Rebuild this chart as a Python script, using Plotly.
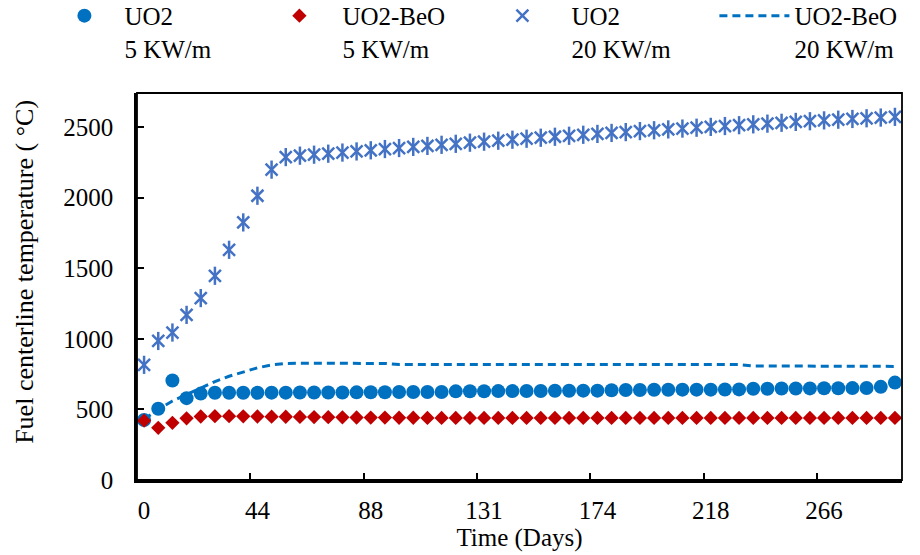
import plotly.graph_objects as go

# category index positions (54 time steps); labels shown every 8th category
tick_positions = [0, 8, 16, 24, 32, 40, 48]
tick_labels = ["0", "44", "88", "131", "174", "218", "266"]
n_cat = 54
categories = list(range(n_cat))

uo2_5 = [425, 505, 705, 580, 612, 618, 618, 618, 618, 619, 619, 620, 620, 620, 620, 621, 622, 622,
         623, 623, 624, 624, 628, 629, 629, 630, 630, 631, 631, 632, 632, 633, 633, 636, 638, 638,
         639, 639, 640, 640, 640, 641, 642, 646, 647, 648, 648, 649, 650, 650, 651, 652, 660, 690]

uo2beo_5 = [420, 370, 405, 437, 450, 452, 452, 451, 450, 449, 448, 447, 446, 445, 444, 443, 442, 442,
            441, 441, 440, 440, 440, 440, 440, 440, 440, 440, 440, 440, 440, 440, 440, 440, 440, 440,
            440, 440, 440, 440, 440, 440, 440, 440, 440, 440, 440, 440, 440, 440, 440, 440, 440, 440]

uo2_20 = [816, 985, 1045, 1170, 1289, 1447, 1631, 1825, 2014, 2199, 2288, 2298, 2305, 2312, 2320, 2328,
          2336, 2345, 2352, 2360, 2367, 2375, 2382, 2390, 2397, 2404, 2411, 2418, 2425, 2432, 2439,
          2446, 2452, 2459, 2465, 2472, 2478, 2484, 2490, 2496, 2502, 2508, 2514, 2520, 2525, 2531,
          2537, 2542, 2548, 2553, 2558, 2563, 2568, 2573]

uo2beo_20 = [430, 500, 560, 605, 650, 697, 735, 766, 795, 815, 826,
             827, 827, 827, 827, 827, 826, 826,
             818, 818, 818, 818, 818, 818, 818, 818, 818, 818, 818, 818, 818, 818, 818, 818, 818, 818,
             818, 818, 818, 818, 818, 818, 818,
             808, 808, 808, 808, 808, 808, 808, 808, 808, 808, 805]

FONT = "'Liberation Serif', 'Times New Roman', Times, serif"
BLUE = "#0070C0"
RED = "#C00000"
STAR = "#4472C4"

fig = go.Figure()

fig.add_trace(go.Scatter(x=categories, y=uo2beo_20, mode="lines", name="UO2-BeO<br>20 KW/m",
                         line=dict(color=BLUE, width=3, dash="8px,5px"), legend="legend4"))
fig.add_trace(go.Scatter(x=categories, y=uo2_5, mode="markers", name="UO2<br>5 KW/m",
                         marker=dict(symbol="circle", size=14, color=BLUE), legend="legend"))
fig.add_trace(go.Scatter(x=categories, y=uo2beo_5, mode="markers", name="UO2-BeO<br>5 KW/m",
                         marker=dict(symbol="diamond", size=11, color=RED), legend="legend2"))
fig.add_trace(go.Scatter(x=categories, y=uo2_20, mode="markers", name="UO2<br>20 KW/m",
                         marker=dict(symbol="x-thin-open", size=12, color=STAR,
                                     line=dict(width=2.5, color=STAR)), legend="legend3"))
fig.add_trace(go.Scatter(x=categories, y=uo2_20, mode="markers", showlegend=False, hoverinfo="skip",
                         marker=dict(symbol="line-ns-open", size=13, color=STAR,
                                     line=dict(width=2.5, color=STAR))))

# invisible trace on the boundary-tick axis
fig.add_trace(go.Scatter(x=[-0.5, n_cat - 0.5], y=[None, None], xaxis="x2", showlegend=False,
                         hoverinfo="skip"))


def legend_box(px_left, item_w):
    return dict(orientation="v", x=px_left / 920, xanchor="left", xref="container",
                y=1 + 100 / 386.7, yanchor="top", yref="paper", valign="top",
                itemwidth=item_w, font=dict(family=FONT, size=25, color="black"),
                bgcolor="rgba(0,0,0,0)", borderwidth=0)


fig.update_layout(
    width=920, height=555,
    margin=dict(l=137, r=18, t=93, b=75, autoexpand=False),
    paper_bgcolor="white", plot_bgcolor="white",
    font=dict(family=FONT, size=25, color="#000000"),
    showlegend=True,
    legend=legend_box(44.4, 70),
    legend2=legend_box(256.4, 76),
    legend3=legend_box(473.4, 88),
    legend4=legend_box(714.4, 70),
    xaxis=dict(range=[-0.5, n_cat - 0.5], tickmode="array", tickvals=tick_positions,
               ticktext=tick_labels, ticks="", showgrid=False, zeroline=False,
               showline=True, linecolor="black", linewidth=2.5,
               title=dict(text="Time (Days)", standoff=4, font=dict(size=25)),
               tickfont=dict(size=25), ticklabelstandoff=6),
    xaxis2=dict(overlaying="x", range=[-0.5, n_cat - 0.5], tickmode="array",
                tickvals=[7.5, 15.5, 23.5, 31.5, 39.5, 47.5], ticktext=[""] * 6,
                ticks="inside", ticklen=7, tickwidth=2, tickcolor="black",
                showgrid=False, zeroline=False, showline=False, side="bottom", anchor="y"),
    yaxis=dict(range=[0, 2742], tickmode="array", tickvals=[0, 500, 1000, 1500, 2000, 2500],
               ticks="inside", ticklen=7, tickwidth=2, tickcolor="black",
               showgrid=False, zeroline=False, showline=True, linecolor="black", linewidth=2.5,
               tickfont=dict(size=25), ticklabelstandoff=16),
    annotations=[dict(text="Fuel centerline temperature ( °C)", xref="paper", yref="paper",
                      x=(25 - 137) / 765, y=(480 - 272) / 386.7, xanchor="center",
                      yanchor="middle", textangle=-90, showarrow=False,
                      font=dict(family=FONT, size=26, color="black"))],
    shapes=[dict(type="rect", xref="paper", yref="paper", x0=0, x1=1, y0=0, y1=1,
                 line=dict(color="black", width=1.8), layer="above")],
)

fig.write_html("out.html", config={"displayModeBar": False},
               post_script="document.body.style.margin='0';")
